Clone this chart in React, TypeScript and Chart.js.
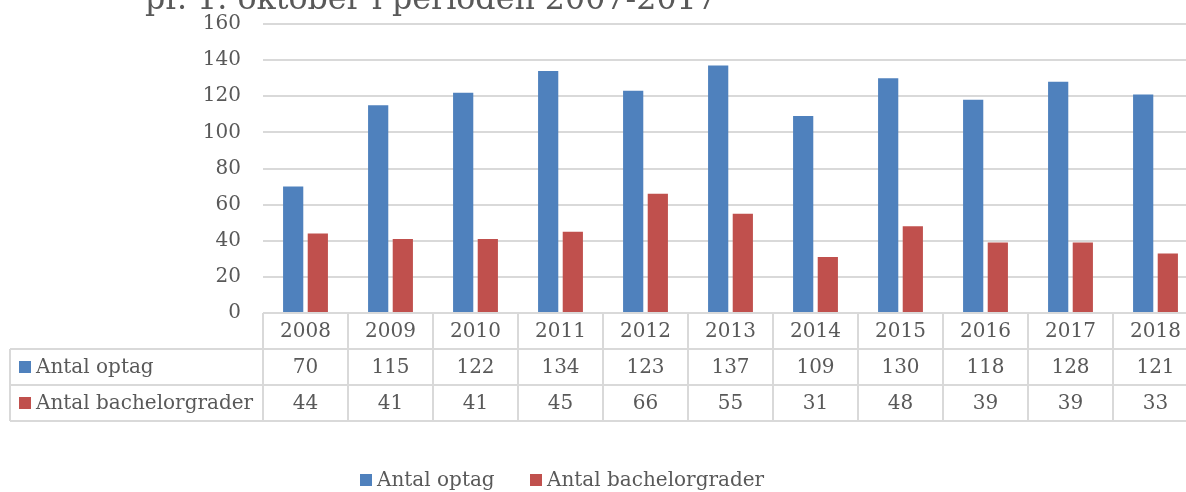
import React, { useEffect, useRef } from "react";
import { Chart, registerables } from "chart.js";

Chart.register(...registerables);

const categories = ["2008", "2009", "2010", "2011", "2012", "2013", "2014", "2015", "2016", "2017", "2018"];
const antalOptag = [70, 115, 122, 134, 123, 137, 109, 130, 118, 128, 121];
const antalBachelor = [44, 41, 41, 45, 66, 55, 31, 48, 39, 39, 33];
const seriesNames = ["Antal optag", "Antal bachelorgrader"];
const seriesColors = ["#4F81BD", "#C0504D"];
const yMin = 0;
const yMax = 160;
const yStep = 20;
const titleText = "pr. 1. oktober i perioden 2007-2017";

const FONT = "'DejaVu Serif', serif";
const TEXT = "#595959";
const LINE = "#D9D9D9";
const SHIFT = 10; // canvas is shifted up by this many pixels

const tablePlugin = {
  id: "tablePlugin",
  afterDraw(chart: any) {
    const ctx = chart.ctx as CanvasRenderingContext2D;
    const x = chart.scales.x;
    const area = chart.chartArea;
    const n = categories.length;
    const w = x.getPixelForValue(1) - x.getPixelForValue(0);
    const rowH = 36;
    const top = area.bottom;
    const leftX = 10;
    const rightX = x.getPixelForValue(n - 1) + w / 2;
    const series = [antalOptag, antalBachelor];

    ctx.save();
    // title (partially clipped at top)
    ctx.fillStyle = TEXT;
    ctx.font = `31.7px ${FONT}`;
    ctx.textAlign = "left";
    ctx.textBaseline = "alphabetic";
    ctx.fillText(titleText, 145, 9 + SHIFT);

    // table lines
    ctx.strokeStyle = LINE;
    ctx.lineWidth = 2;
    ctx.beginPath();
    ctx.moveTo(area.left, top);
    ctx.lineTo(rightX, top);
    for (let r = 1; r <= 3; r++) {
      ctx.moveTo(leftX, top + r * rowH);
      ctx.lineTo(rightX, top + r * rowH);
    }
    for (let i = 0; i <= n; i++) {
      const bx = x.getPixelForValue(0) - w / 2 + i * w;
      ctx.moveTo(bx, top);
      ctx.lineTo(bx, top + 3 * rowH);
    }
    ctx.moveTo(leftX, top + rowH);
    ctx.lineTo(leftX, top + 3 * rowH);
    ctx.stroke();

    // texts
    ctx.font = `20px ${FONT}`;
    ctx.fillStyle = TEXT;
    ctx.textBaseline = "middle";
    ctx.textAlign = "center";
    for (let i = 0; i < n; i++) {
      const cx = x.getPixelForValue(i);
      ctx.fillText(categories[i], cx, top + rowH / 2 + 1);
      for (let s = 0; s < series.length; s++) {
        ctx.fillText(String(series[s][i]), cx, top + rowH * (s + 1) + rowH / 2 + 1);
      }
    }
    ctx.textAlign = "left";
    for (let s = 0; s < series.length; s++) {
      const cy = top + rowH * (s + 1) + rowH / 2;
      ctx.fillStyle = seriesColors[s];
      ctx.fillRect(19, cy - 6, 12, 12);
      ctx.fillStyle = TEXT;
      ctx.fillText(seriesNames[s], 36, cy + 1);
    }

    // legend
    const ly = 480 + SHIFT;
    const legendX = [360, 530];
    for (let s = 0; s < series.length; s++) {
      ctx.fillStyle = seriesColors[s];
      ctx.fillRect(legendX[s], ly - 6, 12, 12);
      ctx.fillStyle = TEXT;
      ctx.fillText(seriesNames[s], legendX[s] + 17, ly + 1);
    }
    ctx.restore();
  },
};

export default function App() {
  const canvasRef = useRef<HTMLCanvasElement | null>(null);

  useEffect(() => {
    if (!canvasRef.current) return;
    const chart = new Chart(canvasRef.current, {
      type: "bar",
      data: {
        labels: categories,
        datasets: [
          {
            label: seriesNames[0],
            data: antalOptag,
            backgroundColor: seriesColors[0],
            categoryPercentage: 0.58,
            barPercentage: 0.82,
          },
          {
            label: seriesNames[1],
            data: antalBachelor,
            backgroundColor: seriesColors[1],
            categoryPercentage: 0.58,
            barPercentage: 0.82,
          },
        ],
      },
      options: {
        animation: false,
        responsive: false,
        devicePixelRatio: 1,
        layout: { padding: { top: 23 + SHIFT, bottom: 179, left: 0, right: 2 } },
        plugins: {
          legend: { display: false },
          tooltip: { enabled: false },
          title: { display: false },
        },
        scales: {
          x: {
            display: false,
          },
          y: {
            min: yMin,
            max: yMax,
            ticks: {
              stepSize: yStep,
              color: TEXT,
              padding: 22,
              font: { family: FONT, size: 20 },
            },
            grid: { color: LINE, lineWidth: 2, drawTicks: false },
            border: { display: false },
            afterFit(scale: any) {
              scale.width = 263;
            },
          },
        },
      },
      plugins: [tablePlugin],
    });
    return () => chart.destroy();
  }, []);

  return (
    <div
      style={{
        position: "fixed",
        left: 0,
        top: 0,
        width: 1186,
        height: 492,
        overflow: "hidden",
        background: "#fff",
      }}
    >
      <canvas
        ref={canvasRef}
        width={1200}
        height={492 + SHIFT}
        style={{ display: "block", position: "absolute", left: 0, top: -SHIFT, width: 1200, height: 492 + SHIFT }}
      />
    </div>
  );
}
